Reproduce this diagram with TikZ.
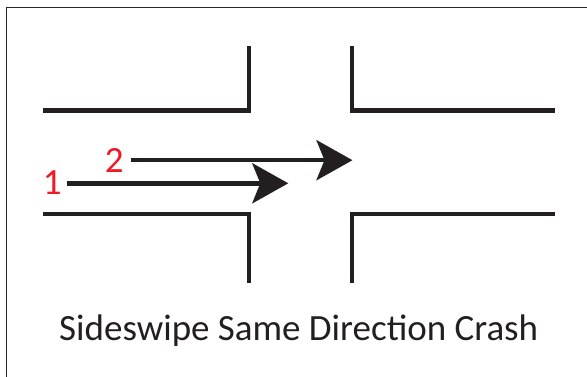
\documentclass[tikz,border=0pt]{standalone}
\usepackage{fontspec}
\setmainfont{Carlito}
\usetikzlibrary{arrows.meta}
\definecolor{ink}{RGB}{35,31,32}
\definecolor{lblred}{RGB}{237,28,36}
\tikzset{
  road/.style={draw=ink, line width=4.6pt, line join=miter},
  car/.style={draw=ink, line width=4.6pt, -{Stealth[length=36pt,width=40pt,inset=8pt]}, fill=ink},
  frame/.style={draw=black!85, line width=1.3pt},
  lbl/.style={text=lblred, font=\fontsize{37}{42}\selectfont, inner sep=0pt, anchor=base},
  title/.style={text=ink, font=\fontsize{37}{42}\selectfont, inner sep=0pt, anchor=base}
}
\begin{document}
\begin{tikzpicture}[x=1pt,y=-1pt]
\useasboundingbox (0,0) rectangle (587,377);
% frame
\draw[frame] (6.5,377) -- (6.5,7.5) -- (587,7.5);
% road edges
\draw[road] (43,110.5) -- (249,110.5) -- (249,46);
\draw[road] (352,46) -- (352,110.5) -- (555,110.5);
\draw[road] (43,214) -- (249,214) -- (249,283);
\draw[road] (352,283) -- (352,214) -- (555,214);
% vehicles
\coordinate (s1) at (66.7,183.3);
\coordinate (e1) at (288.3,183.3);
\coordinate (s2) at (130.7,160.2);
\coordinate (e2) at (352.5,160.2);
\draw[car] (s1) -- (e1);
\draw[car] (s2) -- (e2);
% labels
\node[lbl] (n1) at (52.2,194.3) {1};
\node[lbl] (n2) at (114.2,172.3) {2};
\node[title] (t) at (298.7,340.8) {Sideswipe Same Direction Crash};
\end{tikzpicture}
\end{document}
